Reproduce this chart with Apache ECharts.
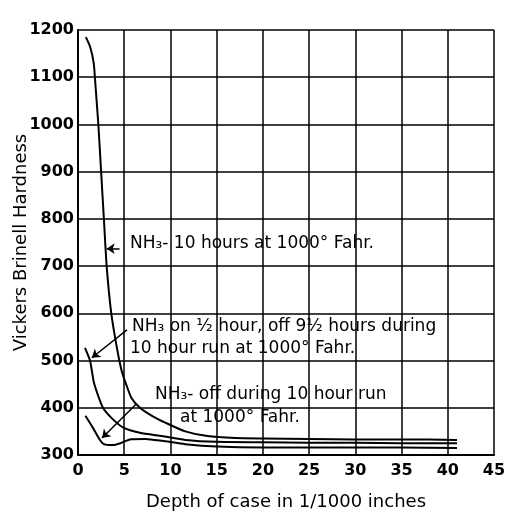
<!DOCTYPE html>
<html>
<head>
<meta charset="utf-8">
<script src="https://cdn.jsdelivr.net/npm/echarts@6/dist/echarts.min.js"></script>
<style>html,body{margin:0;padding:0;background:#fff}#c{width:507px;height:513px}</style>
</head>
<body>
<div id="c"></div>
<script>
// Depth of case (1/1000 in) and Vickers Brinell hardness
var depth10h = [0.85, 1.3, 1.7, 1.9, 2.2, 2.5, 2.8, 3.1, 3.6, 4.2, 4.7, 5.2, 5.8, 6.7, 8.0, 9.5, 11.6, 14, 17, 20, 25, 30, 35, 41];
var hard10h  = [1185, 1165, 1130, 1080, 1000, 900, 800, 700, 600, 528, 480, 450, 420, 400, 383, 368, 350, 340, 336, 335, 334, 333, 333, 332];

var depthHalf = [0.75, 1.3, 1.7, 2.1, 2.7, 3.7, 4.9, 6.7, 9.1, 11.6, 15, 20, 25, 30, 35, 41];
var hardHalf  = [527, 500, 455, 430, 400, 377, 358, 347, 340, 332, 328, 327, 326, 326, 325, 325];

var depthOff = [0.8, 1.6, 2.3, 2.8, 3.7, 4.6, 5.6, 7.3, 9.1, 11.6, 15, 20, 25, 30, 35, 41];
var hardOff  = [383, 358, 334, 323, 321, 325, 333, 334, 330, 323, 318, 316, 316, 316, 316, 315];

var xTicks = [0, 5, 10, 15, 20, 25, 30, 35, 40, 45];
var yTicks = [300, 400, 500, 600, 700, 800, 900, 1000, 1100, 1200];

var labels = [
  "NH\u2083- 10 hours at 1000\u00b0 Fahr.",
  "NH\u2083 on \u00bd hour, off 9\u00bd hours during",
  "10 hour run at 1000\u00b0 Fahr.",
  "NH\u2083- off during 10 hour run",
  "at 1000\u00b0 Fahr."
];

function pairs(xs, ys) { return xs.map(function (x, i) { return [x, ys[i]]; }); }

var FONT = 'DejaVu Sans';
var chart = echarts.init(document.getElementById('c'));
var lineStyle = { color: '#000', width: 2 };
var arrowLine = { color: '#000', width: 1.5, type: 'solid' };

chart.setOption({
  animation: false,
  backgroundColor: '#fff',
  grid: { left: 78, top: 30, right: 13, bottom: 58, containLabel: false, outerBoundsMode: 'none' },
  xAxis: {
    type: 'value', min: xTicks[0], max: xTicks[xTicks.length - 1], interval: 5,
    name: 'Depth of case in 1/1000 inches', nameLocation: 'middle', nameGap: 38, nameMoveOverlap: false,
    nameTextStyle: { fontFamily: FONT, fontSize: 18, color: '#000' },
    axisLine: { lineStyle: { color: '#000', width: 2 } },
    axisTick: { show: false },
    axisLabel: { fontFamily: FONT, fontSize: 16, fontWeight: 'bold', color: '#000', margin: 8 },
    splitLine: { show: true, lineStyle: { color: '#000', width: 1.5 } }
  },
  yAxis: {
    type: 'value', min: yTicks[0], max: yTicks[yTicks.length - 1], interval: 100,
    name: 'Vickers Brinell Hardness', nameLocation: 'middle', nameGap: 48, nameMoveOverlap: false,
    nameTextStyle: { fontFamily: FONT, fontSize: 18, color: '#000' },
    axisLine: { show: true, lineStyle: { color: '#000', width: 2 } },
    axisTick: { show: false },
    axisLabel: { fontFamily: FONT, fontSize: 16, fontWeight: 'bold', color: '#000', margin: 4,
      formatter: function (v) { return String(v); } },
    splitLine: { show: true, lineStyle: { color: '#000', width: 1.5 } }
  },
  series: [
    {
      type: 'line', data: pairs(depth10h, hard10h), smooth: 0.2, showSymbol: false,
      lineStyle: lineStyle,
      markLine: {
        silent: true, symbol: ['none', 'arrow'], symbolSize: 8, label: { show: false },
        lineStyle: arrowLine,
        data: [
          [{ coord: [4.5, 737] }, { coord: [3.1, 737] }]
        ]
      }
    },
    {
      type: 'line', data: pairs(depthHalf, hardHalf), smooth: 0.2, showSymbol: false,
      lineStyle: lineStyle,
      markLine: {
        silent: true, symbol: ['none', 'arrow'], symbolSize: 8, label: { show: false },
        lineStyle: { color: '#000', width: 1.5, type: 'solid', curveness: -0.25 },
        data: [
          [{ coord: [5.3, 565] }, { coord: [1.5, 506] }]
        ]
      }
    },
    {
      type: 'line', data: pairs(depthOff, hardOff), smooth: 0.2, showSymbol: false,
      lineStyle: lineStyle,
      markLine: {
        silent: true, symbol: ['none', 'arrow'], symbolSize: 8, label: { show: false },
        lineStyle: arrowLine,
        data: [
          [{ coord: [6.3, 408] }, { coord: [2.6, 336] }]
        ]
      }
    }
  ],
  graphic: [
    { type: 'text', left: 130, top: 235, style: { text: labels[0], font: '17px "DejaVu Sans"', fill: '#000' } },
    { type: 'text', left: 132, top: 318, style: { text: labels[1], font: '17px "DejaVu Sans"', fill: '#000' } },
    { type: 'text', left: 130, top: 340, style: { text: labels[2], font: '17px "DejaVu Sans"', fill: '#000' } },
    { type: 'text', left: 155, top: 386, style: { text: labels[3], font: '17px "DejaVu Sans"', fill: '#000' } },
    { type: 'text', left: 180, top: 409, style: { text: labels[4], font: '17px "DejaVu Sans"', fill: '#000' } }
  ]
});
</script>
</body>
</html>
